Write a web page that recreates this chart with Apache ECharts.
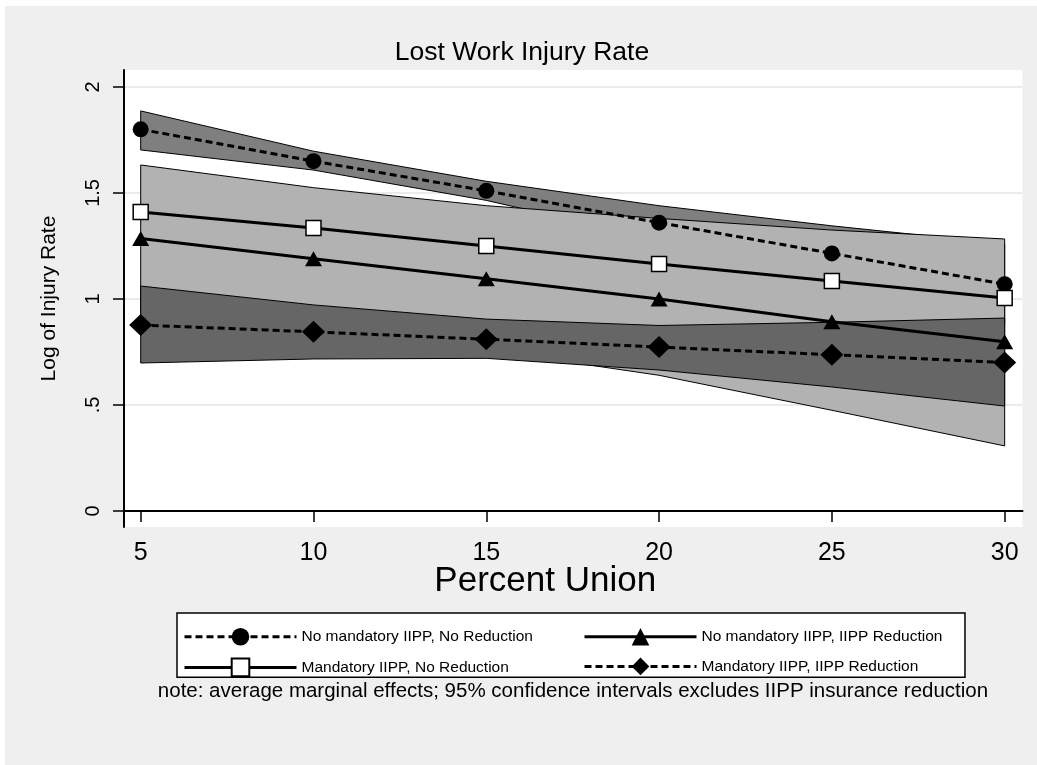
<!DOCTYPE html>
<html>
<head>
<meta charset="utf-8">
<script src="https://cdn.jsdelivr.net/npm/echarts@6/dist/echarts.min.js"></script>
<style>
html,body{margin:0;padding:0;background:#fff;}
#chart{position:absolute;left:5px;top:6px;width:1032px;height:759px;}
</style>
</head>
<body>
<div id="chart"></div>
<script>
// ---- data ----
const pctUnion = [5, 10, 15, 20, 25, 30];
const xTicks = [5, 10, 15, 20, 25, 30];
const yTicks = [0, 0.5, 1, 1.5, 2];
const yTickLabels = ['0', '.5', '1', '1.5', '2'];

const noMandNoRed = [1.80, 1.65, 1.51, 1.36, 1.215, 1.07];
const noMandRed   = [1.285, 1.19, 1.095, 1.0, 0.893, 0.798];
const mandNoRed   = [1.41, 1.335, 1.25, 1.165, 1.085, 1.005];
const mandRed     = [0.877, 0.845, 0.81, 0.773, 0.737, 0.70];

// confidence bands
const bandA_lo = [1.703, 1.608, 1.465, 1.28, 1.085, 0.88];
const bandA_hi = [1.887, 1.697, 1.555, 1.44, 1.345, 1.26];
const bandB_lo = [0.93, 0.86, 0.76, 0.64, 0.475, 0.307];
const bandB_hi = [1.632, 1.525, 1.44, 1.38, 1.325, 1.283];
const bandC_lo = [0.698, 0.717, 0.72, 0.665, 0.585, 0.495];
const bandC_hi = [1.061, 0.972, 0.905, 0.875, 0.89, 0.91];

const seriesNames = [
  'No mandatory IIPP, No Reduction',
  'No mandatory IIPP, IIPP Reduction',
  'Mandatory IIPP, No Reduction',
  'Mandatory IIPP, IIPP Reduction'
];

const FONT = '"Liberation Sans", Arial, Helvetica, sans-serif';

function band(name, lo, hi, color) {
  return {
    type: 'custom',
    name: name,
    silent: true,
    data: pctUnion.map((x, i) => [x, lo[i], hi[i]]),
    encode: { x: 0, y: [1, 2] },
    renderItem: function (params, api) {
      if (params.dataIndex !== 0) return null;
      const top = pctUnion.map((x, i) => api.coord([x, hi[i]]));
      const bot = pctUnion.map((x, i) => api.coord([x, lo[i]])).reverse();
      return {
        type: 'polygon',
        shape: { points: top.concat(bot) },
        style: { fill: color, stroke: '#000', lineWidth: 1 }
      };
    }
  };
}

function lineSeries(name, values, symbol, size, dashed, fill) {
  return {
    type: 'line',
    name: name,
    data: pctUnion.map((x, i) => [x, values[i]]),
    symbol: symbol,
    symbolSize: size,
    showAllSymbol: true,
    lineStyle: { color: '#000', width: 3, type: dashed ? [7, 4] : 'solid' },
    itemStyle: { color: fill, borderColor: '#000', borderWidth: fill === '#fff' ? 1.5 : 0 },
    emphasis: { disabled: true },
    animation: false
  };
}

const legendText = { fontFamily: FONT, fontSize: 15.5, color: '#000' };
const legendCommon = {
  orient: 'vertical',
  itemWidth: 112, itemHeight: 22, itemGap: 12,
  selectedMode: false,
  lineStyle: { width: 3 },
  textStyle: legendText
};

const chart = echarts.init(document.getElementById('chart'));
chart.setOption({
  animation: false,
  backgroundColor: '#efefef',
  textStyle: { fontFamily: FONT, color: '#000' },
  title: [
    {
      text: 'Lost Work Injury Rate',
      left: 517, top: 33, textAlign: 'center', padding: 0,
      textStyle: { fontFamily: FONT, fontSize: 26.5, fontWeight: 'normal', color: '#000' }
    },
    {
      text: 'note: average marginal effects; 95% confidence intervals excludes IIPP insurance reduction',
      left: 568, top: 675, textAlign: 'center', padding: 0,
      textStyle: { fontFamily: FONT, fontSize: 20.5, fontWeight: 'normal', color: '#000' }
    }
  ],
  grid: {
    left: 119, top: 64, right: 14.5, bottom: 238,
    show: true, backgroundColor: '#fff', borderWidth: 0
  },
  legend: [
    Object.assign({}, legendCommon, {
      left: 172, top: 607,
      padding: [15, 432, 0, 6],
      backgroundColor: '#fff',
      borderColor: '#000', borderWidth: 1.5, borderRadius: 0,
      data: [seriesNames[0], seriesNames[2]],
      z: 4
    }),
    Object.assign({}, legendCommon, {
      left: 578, top: 607,
      padding: [15, 0, 0, 0],
      backgroundColor: 'transparent',
      borderWidth: 0,
      data: [seriesNames[1], seriesNames[3]],
      z: 5
    })
  ],
  xAxis: {
    type: 'value',
    min: 4.517, max: 30.516,
    name: 'Percent Union',
    nameLocation: 'middle',
    nameGap: 37,
    nameMoveOverlap: false,
    nameTextStyle: { fontFamily: FONT, fontSize: 35, color: '#000', padding: [0, 56, 0, 0] },
    axisLine: { show: true, lineStyle: { color: '#000', width: 2 } },
    axisTick: { show: true, length: 11, lineStyle: { color: '#000', width: 1.5 }, customValues: xTicks },
    axisLabel: { show: true, margin: 14, fontFamily: FONT, fontSize: 25, color: '#000', customValues: xTicks },
    splitLine: { show: false }
  },
  yAxis: {
    type: 'value',
    min: -0.0755, max: 2.08,
    name: 'Log of Injury Rate',
    nameLocation: 'middle',
    nameGap: 64,
    nameRotate: 90,
    nameMoveOverlap: false,
    nameTextStyle: { fontFamily: FONT, fontSize: 21, color: '#000' },
    axisLine: { show: true, lineStyle: { color: '#000', width: 2 } },
    axisTick: { show: true, length: 11, lineStyle: { color: '#000', width: 1.5 }, customValues: yTicks },
    axisLabel: {
      show: true, rotate: 90, margin: 21, fontFamily: FONT, fontSize: 20, color: '#000',
      customValues: yTicks,
      formatter: function (v) { const i = yTicks.indexOf(v); return i >= 0 ? yTickLabels[i] : ''; }
    },
    splitLine: { show: true, lineStyle: { color: '#e4e4e4', width: 1.5 } }
  },
  series: [
    band('bandA', bandA_lo, bandA_hi, '#7f7f7f'),
    band('bandB', bandB_lo, bandB_hi, '#b2b2b2'),
    band('bandC', bandC_lo, bandC_hi, '#666666'),
    lineSeries(seriesNames[0], noMandNoRed, 'circle', 16, true, '#000'),
    lineSeries(seriesNames[1], noMandRed, 'triangle', [17, 15], false, '#000'),
    lineSeries(seriesNames[2], mandNoRed, 'rect', 15, false, '#fff'),
    lineSeries(seriesNames[3], mandRed, 'diamond', [23, 22], true, '#000')
  ]
});
</script>
</body>
</html>
